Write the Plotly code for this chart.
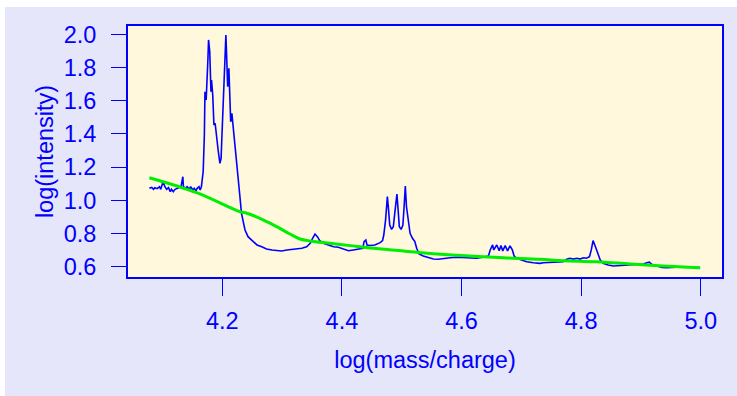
import plotly.graph_objects as go

# Spectrum (blue)
spec_x = [4.078, 4.082, 4.085, 4.087, 4.091, 4.095, 4.097, 4.099, 4.101, 4.104,
          4.107, 4.110, 4.113, 4.115, 4.118, 4.121, 4.125, 4.128, 4.131, 4.134,
          4.135, 4.138, 4.141, 4.145, 4.147, 4.151, 4.153, 4.156, 4.158, 4.161,
          4.163, 4.165, 4.168, 4.170, 4.171, 4.173, 4.174, 4.176, 4.177, 4.179,
          4.181, 4.182, 4.184, 4.186, 4.188, 4.191, 4.193, 4.196, 4.198, 4.199,
          4.202, 4.204, 4.206, 4.207, 4.209, 4.211, 4.212, 4.214, 4.216, 4.218,
          4.221, 4.224, 4.227, 4.230, 4.232, 4.235, 4.238, 4.243, 4.249, 4.258,
          4.266, 4.274, 4.283, 4.291, 4.299, 4.308, 4.316, 4.324, 4.333, 4.341,
          4.347, 4.351, 4.355, 4.359, 4.363, 4.369, 4.377, 4.386, 4.394, 4.402,
          4.411, 4.419, 4.427, 4.435, 4.437, 4.440, 4.442, 4.447, 4.455, 4.464,
          4.468, 4.470, 4.473, 4.476, 4.478, 4.480, 4.483, 4.486, 4.489, 4.492,
          4.494, 4.496, 4.499, 4.502, 4.504, 4.506, 4.508, 4.511, 4.514, 4.518,
          4.522, 4.525, 4.529, 4.536, 4.544, 4.553, 4.561, 4.570, 4.581, 4.592,
          4.603, 4.614, 4.625, 4.636, 4.645, 4.648, 4.652, 4.654, 4.659, 4.663,
          4.666, 4.669, 4.673, 4.677, 4.681, 4.685, 4.688, 4.692, 4.701, 4.709,
          4.720, 4.731, 4.737, 4.748, 4.759, 4.770, 4.776, 4.781, 4.787, 4.793,
          4.798, 4.804, 4.809, 4.814, 4.817, 4.820, 4.824, 4.828, 4.832, 4.837,
          4.845, 4.854, 4.862, 4.871, 4.882, 4.893, 4.904, 4.910, 4.914, 4.918,
          4.926, 4.935, 4.943, 4.954, 4.965, 4.977, 4.988, 4.999]
spec_y = [1.072, 1.078, 1.066, 1.076, 1.070, 1.082, 1.066, 1.092, 1.112, 1.082,
          1.066, 1.076, 1.052, 1.066, 1.052, 1.066, 1.072, 1.078, 1.082, 1.142,
          1.082, 1.072, 1.082, 1.066, 1.082, 1.062, 1.072, 1.058, 1.072, 1.082,
          1.062, 1.082, 1.172, 1.393, 1.654, 1.604, 1.664, 1.855, 1.966, 1.895,
          1.654, 1.725, 1.634, 1.454, 1.464, 1.353, 1.303, 1.223, 1.253, 1.353,
          1.654, 1.895, 1.996, 1.895, 1.684, 1.795, 1.654, 1.473, 1.524, 1.454,
          1.353, 1.213, 1.112, 1.002, 0.922, 0.861, 0.821, 0.781, 0.761, 0.731,
          0.720, 0.707, 0.701, 0.696, 0.695, 0.701, 0.705, 0.707, 0.711, 0.720,
          0.741, 0.771, 0.797, 0.781, 0.757, 0.741, 0.731, 0.720, 0.717, 0.705,
          0.696, 0.701, 0.705, 0.711, 0.751, 0.761, 0.731, 0.728, 0.731, 0.745,
          0.757, 0.791, 0.881, 1.022, 0.942, 0.851, 0.825, 0.841, 0.942, 1.038,
          0.942, 0.841, 0.825, 0.851, 0.961, 1.086, 0.961, 0.861, 0.801, 0.771,
          0.751, 0.711, 0.677, 0.664, 0.654, 0.646, 0.645, 0.651, 0.654, 0.657,
          0.654, 0.654, 0.651, 0.657, 0.664, 0.701, 0.731, 0.701, 0.731, 0.696,
          0.727, 0.695, 0.727, 0.695, 0.725, 0.701, 0.664, 0.651, 0.640, 0.630,
          0.624, 0.620, 0.624, 0.627, 0.628, 0.630, 0.645, 0.651, 0.646, 0.651,
          0.646, 0.654, 0.651, 0.660, 0.701, 0.757, 0.720, 0.681, 0.640, 0.620,
          0.610, 0.604, 0.606, 0.610, 0.612, 0.614, 0.616, 0.624, 0.627, 0.614,
          0.604, 0.596, 0.594, 0.596, 0.600, 0.600, 0.596, 0.594]

# Smoothed baseline (green)
base_x = [4.078, 4.157, 4.230, 4.241, 4.269, 4.291, 4.313, 4.330, 4.347, 4.380,
          4.414, 4.447, 4.503, 4.559, 4.614, 4.670, 4.731, 4.770, 4.826, 4.882,
          4.937, 4.999]
base_y = [1.136, 1.046, 0.931, 0.922, 0.881, 0.841, 0.797, 0.767, 0.755, 0.741,
          0.727, 0.713, 0.695, 0.677, 0.664, 0.654, 0.645, 0.636, 0.630, 0.616,
          0.604, 0.594]

x_ticks = [4.2, 4.4, 4.6, 4.8, 5.0]
x_ticklabels = ["4.2", "4.4", "4.6", "4.8", "5.0"]
y_ticks = [0.6, 0.8, 1.0, 1.2, 1.4, 1.6, 1.8, 2.0]
y_ticklabels = ["0.6", "0.8", "1.0", "1.2", "1.4", "1.6", "1.8", "2.0"]

BLUE = "#0000FF"
FONT = "Liberation Sans, Arial, sans-serif"
FS = 23.5
W, H = 737, 396
L, R, T, B = 128, 15, 26, 119
pw, ph = W - L - R, H - T - B

fig = go.Figure()
fig.add_trace(go.Scatter(x=spec_x, y=spec_y, mode="lines",
                         line=dict(color=BLUE, width=1.6), hoverinfo="skip"))
fig.add_trace(go.Scatter(x=base_x, y=base_y, mode="lines", line_shape="spline",
                         line=dict(color="#00EE00", width=3), hoverinfo="skip"))

# outer lavender panel and plot panel
fig.add_shape(type="rect", xref="paper", yref="paper", layer="below",
              x0=(5 - L) / pw, x1=(W - L) / pw,
              y0=-(H - T - ph) / ph, y1=1 + (T - 7) / ph,
              fillcolor="#E6E6FA", line_width=0)
fig.add_shape(type="rect", xref="paper", yref="paper", layer="below",
              x0=0, x1=1, y0=0, y1=1, fillcolor="#FFF8DC", line_width=0)

axis_common = dict(showgrid=False, zeroline=False, showline=True, mirror=True,
                   linecolor=BLUE, linewidth=2, ticks="outside", tickcolor=BLUE,
                   tickwidth=1.2, tickfont=dict(color=BLUE, size=FS, family=FONT))
fig.update_xaxes(range=[4.0423, 5.0356], tickvals=x_ticks, ticktext=x_ticklabels,
                 ticklen=17, ticklabelstandoff=5,
                 title=dict(text="log(mass/charge)", font=dict(color=BLUE, size=FS, family=FONT),
                            standoff=18),
                 **axis_common)
fig.update_yaxes(range=[0.538, 2.05], tickvals=y_ticks, ticktext=y_ticklabels,
                 ticklen=15, ticklabelstandoff=10,
                 title=dict(text="log(intensity)", font=dict(color=BLUE, size=FS, family=FONT),
                            standoff=3),
                 **axis_common)

fig.update_layout(width=W, height=H, margin=dict(l=L, r=R, t=T, b=B, pad=0),
                  paper_bgcolor="white", plot_bgcolor="#FFF8DC",
                  showlegend=False, font=dict(family=FONT, color=BLUE))

fig.write_html("out.html")
